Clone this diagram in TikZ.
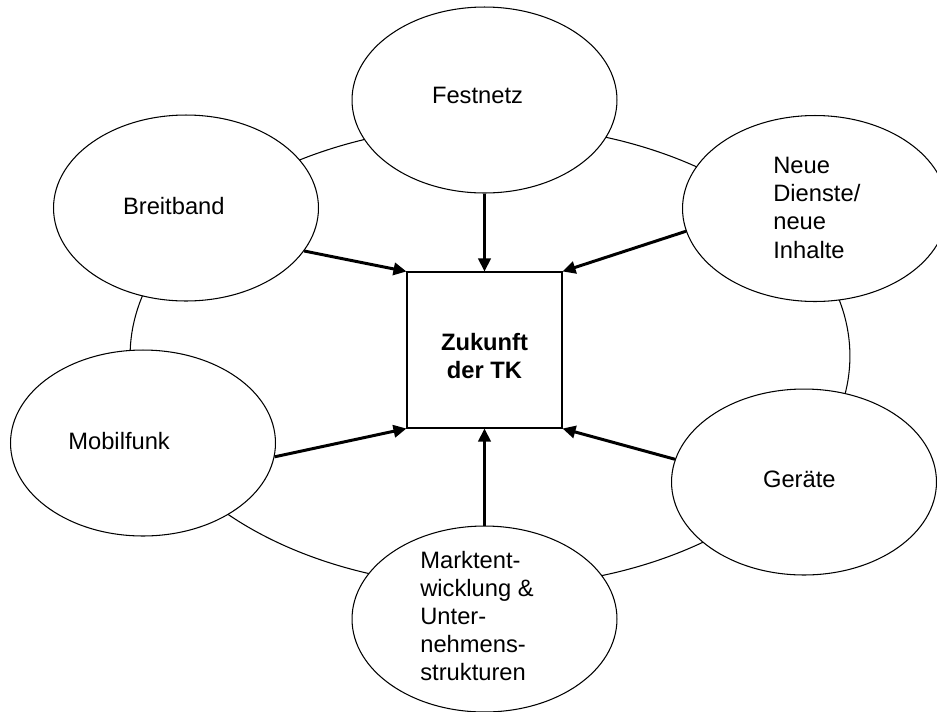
\documentclass[tikz,border=0pt]{standalone}
\usepackage{fontspec}
\setmainfont{Liberation Sans}
\usetikzlibrary{shapes.geometric,arrows.meta}
\tikzset{
	bubble/.style={draw, ellipse, fill=white, inner sep=0pt, line width=0.6pt, minimum width=5.3cm, minimum height=3.72cm},
	lbl/.style={anchor=north west, inner sep=0pt, align=left, font=\fontsize{13.5}{16}\selectfont},
	push/.style={line width=1.7pt, -{Triangle[length=7.4pt,width=7pt]}}
}
\begin{document}
\begin{tikzpicture}[x=0.02cm,y=-0.02cm]
\useasboundingbox (0,0) rectangle (937,711);
\node[draw, ellipse, inner sep=0pt, line width=0.6pt, minimum width=14.4cm, minimum height=9.24cm] (ring) at (490,356) {};
\foreach \n/\x/\y in {fest/484.5/100, breit/186/208, neu/815/208.5, mobil/143/443, geraet/804/482, markt/484.5/619} {
	\node[bubble] (\n) at (\x,\y) {};
}
\node[draw, line width=0.6pt, minimum width=3.1cm, minimum height=3.12cm] (tk) at (484.5,350) {};
\node[lbl, anchor=north, align=center, font=\fontsize{13.5}{16}\selectfont\bfseries] (tk-t) at (484.5,333) {Zukunft\\der TK};
\node[lbl] (fest-t) at (431.7,87) {Festnetz};
\node[lbl] (breit-t) at (122.7,197) {Breitband};
\node[lbl] (neu-t) at (773,157) {Neue\\Dienste/\\neue\\Inhalte};
\node[lbl] (mobil-t) at (68,432) {Mobilfunk};
\node[lbl] (geraet-t) at (762.7,471) {Geräte};
\node[lbl] (markt-t) at (420,551) {Marktent-\\wicklung \&\\Unter-\\nehmens-\\strukturen};
\foreach \a/\b in {fest.south/tk.north, breit.-20/tk.north west, neu.190.5/tk.north east, mobil.-6/tk.south west, geraet.170/tk.south east, markt.north/tk.south} {
	\draw[push] (\a) -- (\b);
}
\end{tikzpicture}
\end{document}
